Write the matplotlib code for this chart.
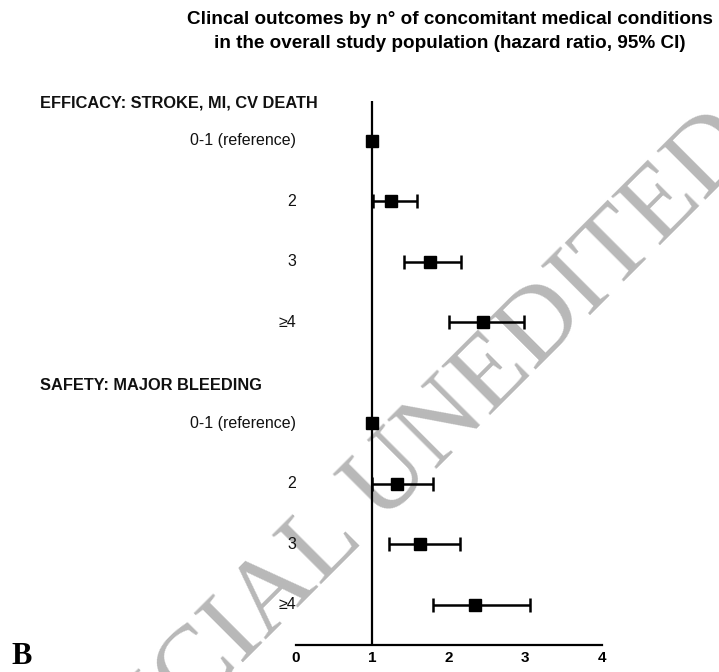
import numpy as np
import matplotlib
matplotlib.use("Agg")
import matplotlib.pyplot as plt

plt.rcParams['font.family'] = ['Liberation Sans', 'DejaVu Sans']

# hazard ratios with 95% CI (reference group has no interval)
row_labels = ["0-1 (reference)", "2", "3", "≥4"]

eff_hr = [1.00, 1.25, 1.75, 2.45]
eff_lo = [np.nan, 1.01, 1.42, 2.01]
eff_hi = [np.nan, 1.58, 2.16, 2.98]

saf_hr = [1.00, 1.33, 1.62, 2.34]
saf_lo = [np.nan, 1.00, 1.22, 1.79]
saf_hi = [np.nan, 1.80, 2.15, 3.06]

x_ticks = [0, 1, 2, 3, 4]

sections = [
    ("EFFICACY: STROKE, MI, CV DEATH", eff_hr, eff_lo, eff_hi, 0.0),
    ("SAFETY: MAJOR BLEEDING", saf_hr, saf_lo, saf_hi, 4.67),
]

W, H = 719, 672
fig = plt.figure(figsize=(W / 100, H / 100), dpi=100)
ax = fig.add_axes([295.7 / W, 1 - 645 / H, (601.7 - 295.7) / W, (645 - 100.7) / H])
ax.set_facecolor("none")

for header, hr, lo, hi, y0 in sections:
    ys = y0 + np.arange(len(hr))
    for y, h, l, u, lab in zip(ys, hr, lo, hi, row_labels):
        if not np.isnan(l):
            ax.errorbar(h, y, xerr=[[h - l], [u - h]], fmt="none", ecolor="black",
                        elinewidth=1.8, capsize=5, capthick=1.8, zorder=3)
        ax.plot(h, y, marker="s", markersize=8.5, color="black", zorder=4)
        ax.text(0.005, y, lab, ha="right", va="center", fontsize=11.5, color="#111111")
    ax.text(-3.34, y0 - 0.62, header, ha="left", va="center", fontsize=11.8,
            fontweight="bold", color="#111111")

# line of no effect
ax.axvline(1, color="black", lw=1.6, zorder=2)

ax.set_xlim(0, 4)
ax.set_ylim(8.336, -0.661)
ax.set_xticks(x_ticks)
ax.set_xticklabels([str(t) for t in x_ticks], fontweight="bold", fontsize=11)
ax.tick_params(axis="x", length=0, pad=4)
ax.set_yticks([])
for s in ["top", "right", "left"]:
    ax.spines[s].set_visible(False)
ax.spines["bottom"].set_linewidth(1.6)

fig.text(0.626, 1 - 11 / H,
         "Clincal outcomes by n° of concomitant medical conditions\n"
         "in the overall study population (hazard ratio, 95% CI)",
         ha="center", va="top", fontsize=13.6, fontweight="bold", linespacing=1.55)

fig.text(11 / W, 1 - 657 / H, "B", ha="left", va="center", fontsize=22,
         fontweight="bold", family="Liberation Serif")

# diagonal watermark
fig.text(376 / W, 1 - 494 / H, "OFFICIAL UNEDITED", rotation=45, rotation_mode="anchor",
         ha="center", va="center", fontsize=76, family="Liberation Serif",
         color="#b8b8b8", zorder=-1)

fig.savefig("out.png", dpi=100)
